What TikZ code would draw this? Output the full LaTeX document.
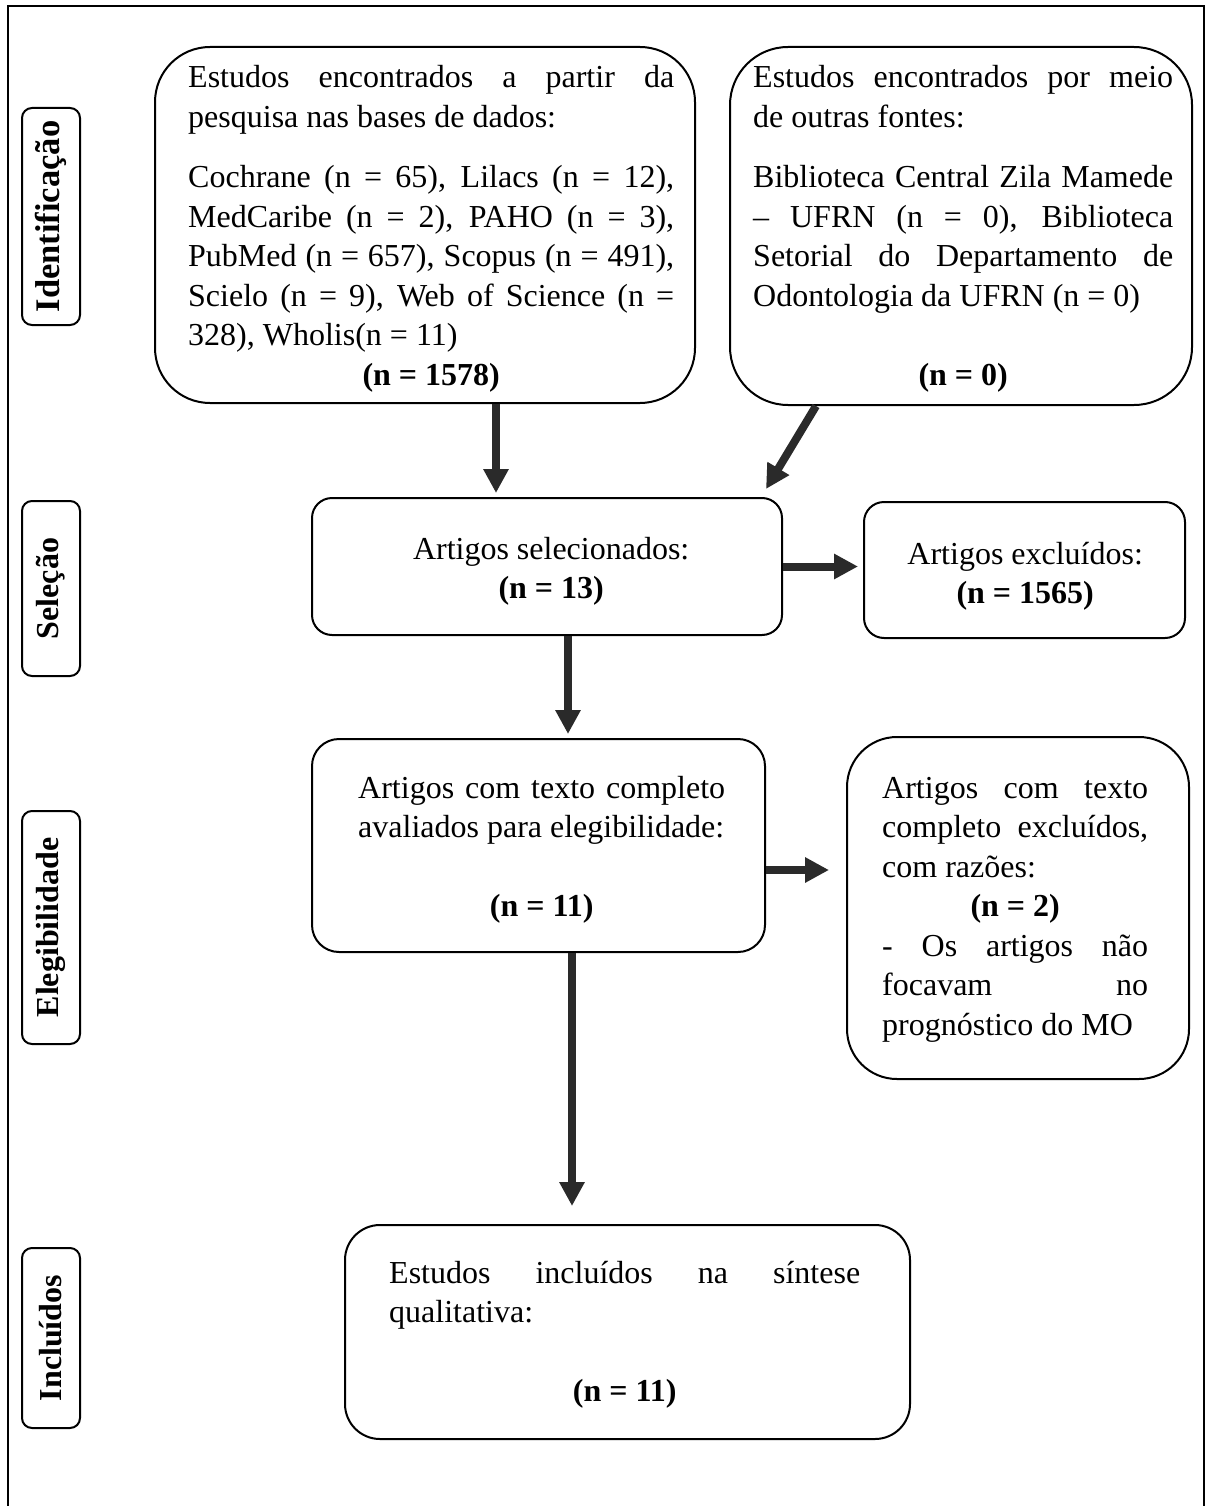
\documentclass[tikz,border=0pt]{standalone}
\usepackage{fontspec}
\setmainfont{Liberation Serif}
\usetikzlibrary{arrows.meta}
\definecolor{arrowgray}{HTML}{2A2A2A}
\newcommand{\myjust}[1]{\makebox[\linewidth][s]{#1}}
\newcommand{\mycent}[1]{\makebox[\linewidth][c]{#1}}
\newcommand{\mynat}[1]{\mbox{#1}}
\newcommand{\bodyfont}{\fontsize{32}{39.5}\selectfont}
\newcommand{\txreset}{\bodyfont\spaceskip=0pt\relax\xspaceskip=0pt\relax\hyphenpenalty=10000\relax}
\begin{document}
\begin{tikzpicture}[x=1pt,y=-1pt,
  box/.style={draw=black, line width=2pt, fill=white, inner sep=0pt},
  phase/.style={draw=black, line width=2pt, rounded corners=10pt, rotate=90,
    minimum height=58pt, inner sep=0pt, font=\bfseries\fontsize{32}{38}\selectfont},
  txt/.style={inner sep=0pt, anchor=base west, align=justify, font=\bodyfont},
  arr/.style={draw=arrowgray, line width=8pt, -{Triangle[length=24pt,width=24pt]}}
]
\useasboundingbox (0,0) rectangle (1209,1506);
\fill[white] (0,0) rectangle (1209,1506);
% outer frame (open at the bottom)
\draw[line width=2pt] (8,1506) -- (8,6) -- (1204,6) -- (1204,1506);

% phase labels
\node[phase, minimum width=217pt, font=\bfseries\fontsize{34.5}{40}\selectfont] (p1) at (51,216.5) {Identificação};
\node[phase, minimum width=175pt] (p2) at (51,588.5) {Seleção};
\node[phase, minimum width=233pt] (p3) at (51,927.5) {Elegibilidade};
\node[phase, minimum width=180pt] (p4) at (51,1338) {Incluídos};

% boxes
\node[box, rounded corners=55pt, minimum width=540pt, minimum height=356pt] (b1) at (425,225) {};
\node[box, rounded corners=58pt, minimum width=462pt, minimum height=358pt] (b2) at (961,226) {};
\node[box, rounded corners=20pt, minimum width=470pt, minimum height=137pt] (b3) at (547,566.5) {};
\node[box, rounded corners=20pt, minimum width=321pt, minimum height=136pt] (b4) at (1024.5,570) {};
\node[box, rounded corners=27pt, minimum width=453pt, minimum height=213pt] (b5) at (538.5,845.5) {};
\node[box, rounded corners=50pt, minimum width=342pt, minimum height=342pt] (b6) at (1018,908) {};
\node[box, rounded corners=35pt, minimum width=565pt, minimum height=214pt] (b7) at (627.5,1332) {};

% texts
\node[txt, text width=486pt] (t1) at (188,88) {\txreset
\myjust{Estudos encontrados a partir da}\\
\mynat{pesquisa nas bases de dados:}\\[21pt]
\myjust{Cochrane (n = 65), Lilacs (n = 12),}\\
\myjust{MedCaribe (n = 2), PAHO (n = 3),}\\
\myjust{PubMed (n = 657), Scopus (n = 491),}\\
\myjust{Scielo (n = 9), Web of Science (n =}\\
\mynat{328), Wholis(n = 11)}\\
\mycent{\textbf{(n = 1578)}}};

\node[txt, text width=420pt] (t2) at (753,88) {\txreset
\myjust{Estudos encontrados por meio}\\
\mynat{de outras fontes:}\\[21pt]
\myjust{Biblioteca Central Zila Mamede}\\
\myjust{– UFRN (n = 0), Biblioteca}\\
\myjust{Setorial do Departamento de}\\
\mynat{Odontologia da UFRN (n = 0)}\\[39.5pt]
\mycent{\textbf{(n = 0)}}};

\node[txt, text width=400pt] (t3) at (351,559) {\txreset
\mycent{Artigos selecionados:}\\
\mycent{\textbf{(n = 13)}}};

\node[txt, text width=300pt] (t4) at (875,564) {\txreset
\mycent{Artigos excluídos:}\\
\mycent{\textbf{(n = 1565)}}};

\node[txt, text width=367pt] (t5) at (358,798) {\txreset
\myjust{Artigos com texto completo}\\
\mynat{avaliados para elegibilidade:}\\[39.5pt]
\mycent{\textbf{(n = 11)}}};

\node[txt, text width=266pt] (t6) at (882,798) {\txreset
\myjust{Artigos com texto}\\
\myjust{completo excluídos,}\\
\mynat{com razões:}\\
\mycent{\textbf{(n = 2)}}\\
\myjust{- Os artigos não}\\
\myjust{focavam no}\\
\mynat{prognóstico do MO}};

\node[txt, text width=471pt] (t7) at (389,1283) {\txreset
\myjust{Estudos incluídos na síntese}\\
\mynat{qualitativa:}\\[39.5pt]
\mycent{\textbf{(n = 11)}}};

% connectors
\coordinate (a1s) at ([xshift=71pt]b1.south);
\draw[arr, shorten >=4pt] (a1s) -- (a1s |- b3.north);
\coordinate (a2s) at ([xshift=-145pt]b2.south);
\coordinate (a2e) at ([xshift=-17pt,yshift=8pt]b3.north east);
\draw[arr] (a2s) -- (a2e);
\draw[arr, shorten >=5pt] (b3.east) -- (b3.east -| b4.west);
\coordinate (a4s) at ([xshift=21pt]b3.south);
\draw[arr, shorten >=4pt] (a4s) -- (a4s |- b5.north);
\coordinate (a5s) at ([yshift=-24.5pt]b5.east);
\draw[arr, shorten >=17pt] (a5s) -- (a5s -| b6.west);
\coordinate (a6s) at ([xshift=33.5pt]b5.south);
\draw[arr, shorten >=18pt] (a6s) -- (a6s |- b7.north);
\end{tikzpicture}
\end{document}
